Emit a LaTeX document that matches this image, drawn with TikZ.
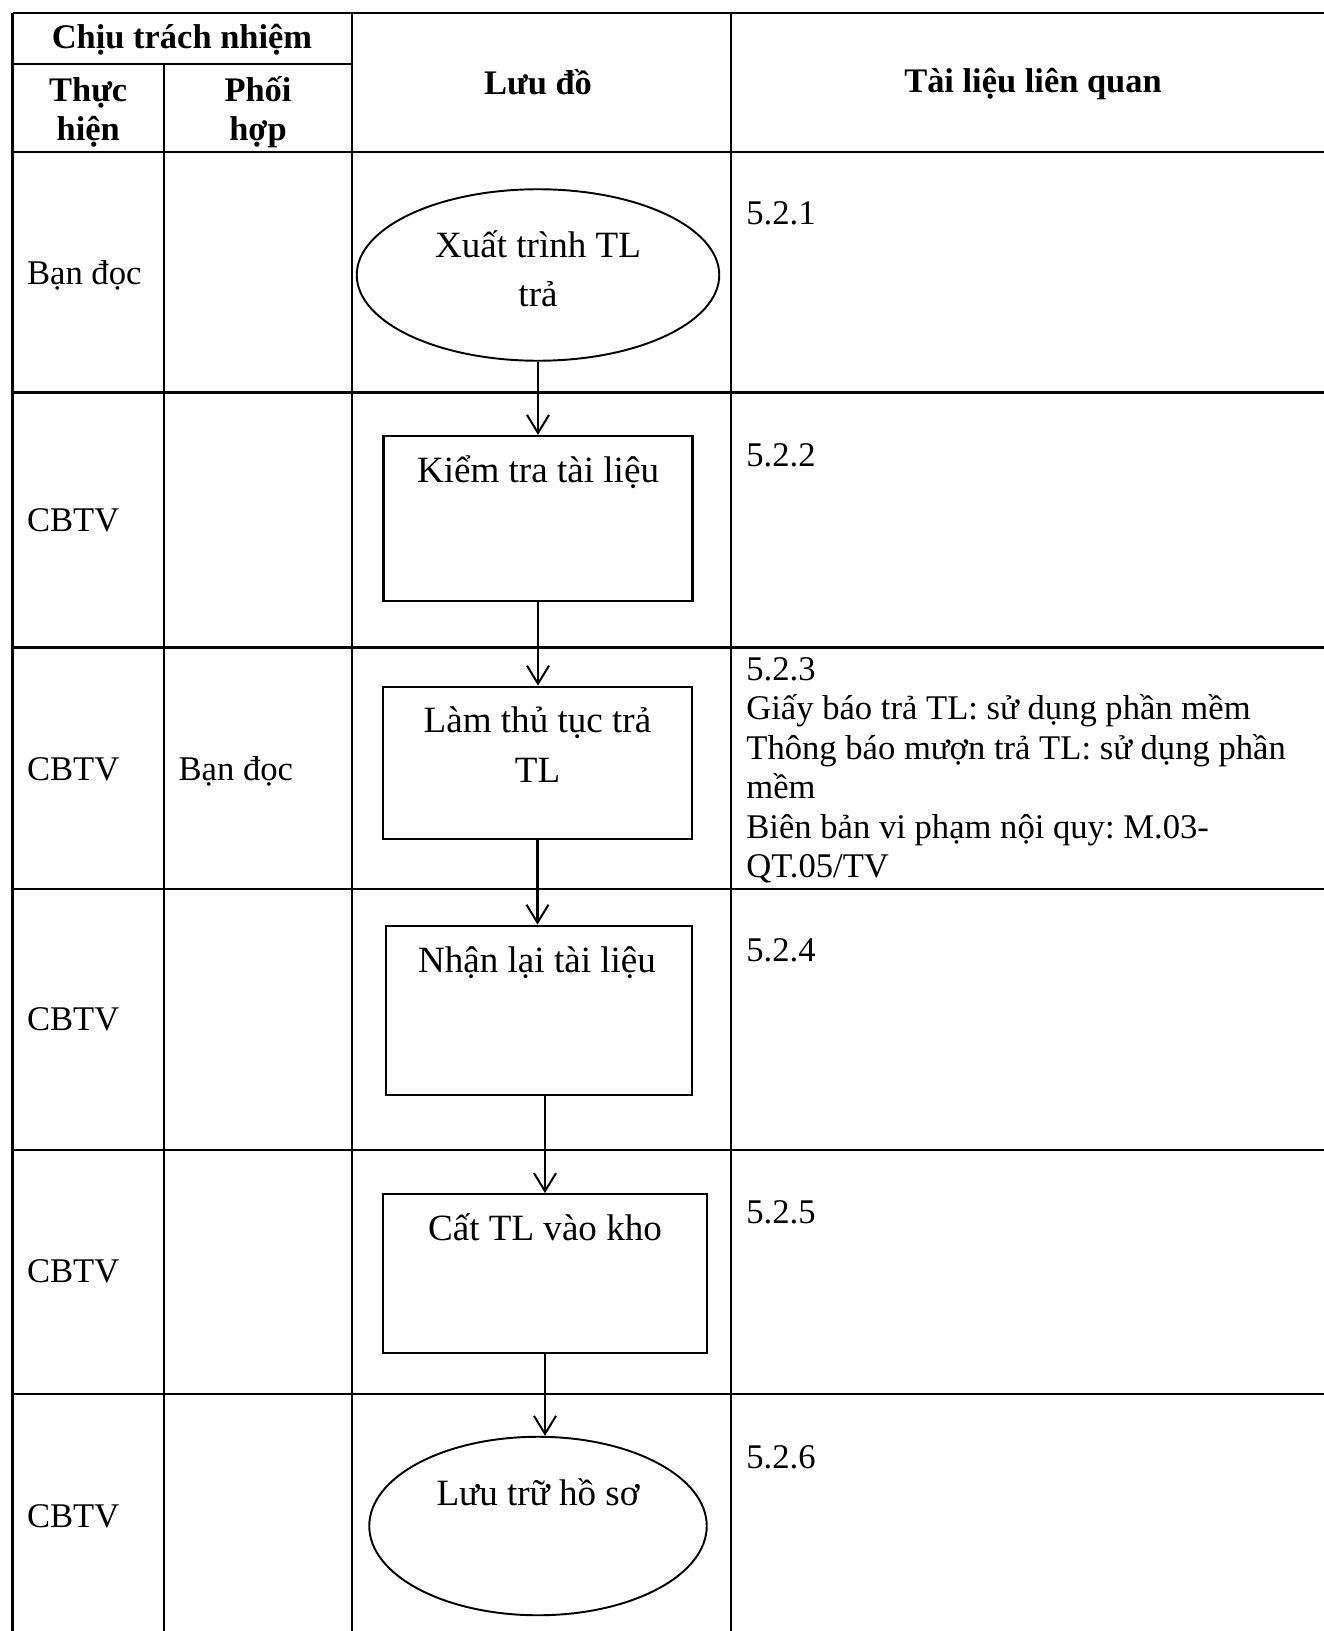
\documentclass[tikz,border=0pt]{standalone}
\usepackage{fontspec}
\setmainfont{Liberation Serif}
\usetikzlibrary{shapes.geometric,arrows.meta}
\frenchspacing

\tikzset{
  rule/.style={line width=1.15pt},
  thickrule/.style={line width=1.7pt},
  celltxt/.style={anchor=base west, inner sep=0pt, font=\fontsize{19.7}{22.5}\selectfont},
  reftxt/.style={celltxt, text width=12cm, align=flush left},
  headtxt/.style={anchor=base, inner sep=0pt, align=flush center, font=\fontsize{19.6}{22.5}\selectfont\bfseries},
  flowtxt/.style={anchor=base, inner sep=0pt, align=flush center, font=\fontsize{21.1}{28.2}\selectfont},
  procbox/.style={draw, rectangle, line width=1.3pt, inner sep=0pt},
  termnode/.style={draw, ellipse, line width=1.1pt, inner sep=0pt},
  flowarrow/.style={line width=1.15pt, -{Straight Barb[length=0.36cm, width=0.44cm]}}
}

\begin{document}
\begin{tikzpicture}
	\useasboundingbox (0,0) rectangle (26.48,-32.62);
	% table
	\draw[thickrule] (0.25,-0.26) -- (26.48,-0.26);
	\draw[thickrule] (0.25,-1.28) -- (7.04,-1.28);
	\draw[thickrule] (0.25,-3.04) -- (26.48,-3.04);
	\foreach \y in {-7.85,-12.95,-17.77,-22.99,-27.88}
		\draw[rule] (0.25,\y) -- (26.48,\y);
	\draw[rule] (0.25,-0.26) -- (0.25,-32.62);
	\draw[rule] (3.28,-1.28) -- (3.28,-32.62);
	\draw[rule] (7.04,-0.26) -- (7.04,-32.62);
	\draw[rule] (14.62,-0.26) -- (14.62,-32.62);
	% header
	\node[headtxt] (resp) at (3.64,-0.98) {Chịu trách nhiệm};
	\node[headtxt, text width=2.8cm] (exec) at (1.765,-2.02) {Thực\\hiện};
	\node[headtxt, text width=3.4cm] (coop) at (5.16,-2.02) {Phối\\hợp};
	\node[headtxt] (flowhead) at (10.76,-1.90) {Lưu đồ};
	\node[headtxt] (dochead) at (20.66,-1.86) {Tài liệu liên quan};
	% who
	\node[celltxt] (who1) at (0.534,-5.68) {Bạn đọc};
	\node[celltxt] (who2) at (0.534,-10.62) {CBTV};
	\node[celltxt] (who3) at (0.534,-15.60) {CBTV};
	\node[celltxt] (co3) at (3.566,-15.60) {Bạn đọc};
	\node[celltxt] (who4) at (0.534,-20.60) {CBTV};
	\node[celltxt] (who5) at (0.534,-25.64) {CBTV};
	\node[celltxt] (who6) at (0.534,-30.54) {CBTV};
	% documents
	\node[celltxt] (doc1) at (14.92,-4.48) {5.2.1};
	\node[celltxt] (doc2) at (14.92,-9.32) {5.2.2};
	\node[reftxt] (doc3) at (14.92,-13.60) {5.2.3\\Giấy báo trả TL: sử dụng phần mềm\\Thông báo mượn trả TL: sử dụng phần\\mềm\\Biên bản vi phạm nội quy: M.03-\\QT.05/TV};
	\node[celltxt] (doc4) at (14.92,-19.22) {5.2.4};
	\node[celltxt] (doc5) at (14.92,-24.46) {5.2.5};
	\node[celltxt] (doc6) at (14.92,-29.36) {5.2.6};
	% flow chart
	\node[termnode, minimum width=7.25cm, minimum height=3.43cm] (start) at (10.76,-5.50) {};
	\node[procbox, minimum width=6.18cm, minimum height=3.30cm] (check) at (10.76,-10.37) {};
	\node[procbox, minimum width=6.19cm, minimum height=3.05cm] (proc) at (10.75,-15.26) {};
	\node[procbox, minimum width=6.13cm, minimum height=3.39cm] (receive) at (10.78,-20.21) {};
	\node[procbox, minimum width=6.47cm, minimum height=3.17cm] (store) at (10.90,-25.47) {};
	\node[termnode, minimum width=6.75cm, minimum height=3.57cm] (archive) at (10.76,-30.52) {};
	\node[flowtxt, text width=6cm] (startlbl) at (10.76,-5.14) {Xuất trình TL\\trả};
	\node[flowtxt] (checklbl) at (10.76,-9.64) {Kiểm tra tài liệu};
	\node[flowtxt, text width=6cm] (proclbl) at (10.75,-14.65) {Làm thủ tục trả\\TL};
	\node[flowtxt] (receivelbl) at (10.74,-19.44) {Nhận lại tài liệu};
	\node[flowtxt] (storelbl) at (10.90,-24.80) {Cất TL vào kho};
	\node[flowtxt] (archivelbl) at (10.76,-30.10) {Lưu trữ hồ sơ};
	\draw[flowarrow] (start.south) -- (check.north);
	\draw[flowarrow] (check.south) -- (check.south |- proc.north);
	\draw[flowarrow] (proc.south) -- (proc.south |- receive.north);
	\draw[flowarrow] (receive.south -| store.north) -- (store.north);
	\draw[flowarrow] (store.south) -- (store.south |- archive.north);
\end{tikzpicture}
\end{document}
